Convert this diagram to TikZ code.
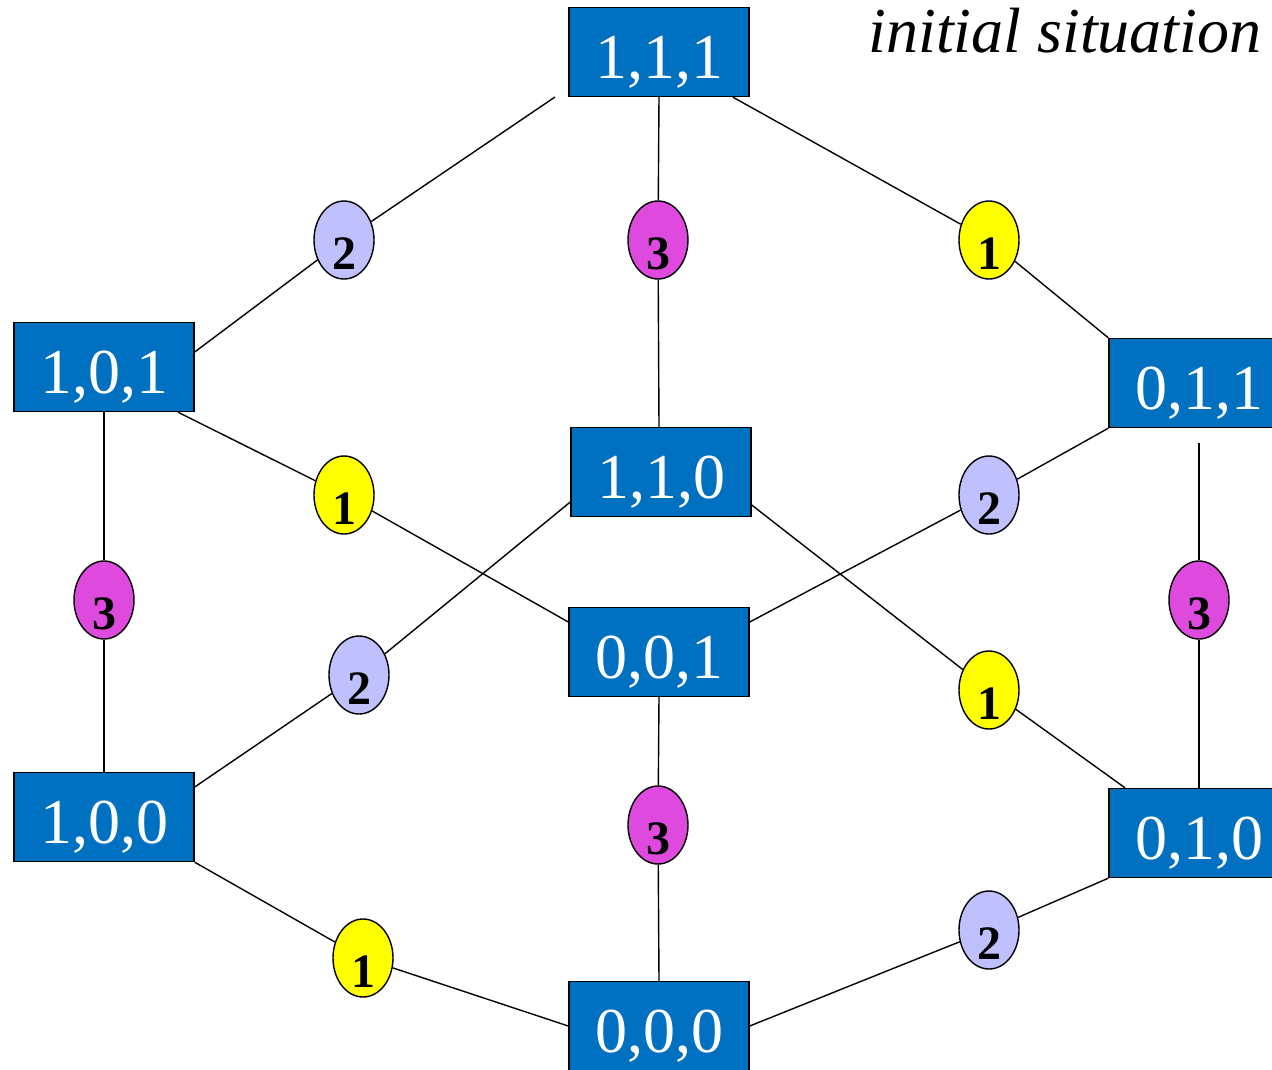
\documentclass[tikz,border=0pt]{standalone}
\usepackage{fontspec}
\setmainfont{Liberation Serif}[ItalicFont={Liberation Serif Italic},BoldFont={Liberation Serif Bold}]
\usetikzlibrary{shapes.geometric}
\definecolor{boxblue}{RGB}{0,112,192}
\definecolor{lav}{RGB}{192,192,255}
\definecolor{mag}{RGB}{221,74,221}
\definecolor{yel}{RGB}{255,255,0}
\newcommand{\lowtxt}[1]{\raisebox{-26pt}[0pt][0pt]{#1}}
\begin{document}
\begin{tikzpicture}[x=1pt,y=-1pt,
  statebox/.style={rectangle,draw=black,line width=1.4pt,fill=boxblue,text=white,
    minimum width=180pt,minimum height=89pt,inner sep=0pt,
    font=\fontsize{64}{64}\selectfont},
  ell/.style={ellipse,draw=black,line width=1.4pt,minimum width=60pt,minimum height=78pt,inner sep=0pt},
  num/.style={font=\fontsize{48}{48}\selectfont\bfseries,text=black,yshift=-14pt},
  conn/.style={line width=1.4pt,draw=black}]
\useasboundingbox (0,0) rectangle (1272,1069);
\clip (0,0) rectangle (1272,1069);
% state boxes
\node[statebox] (b111) at (659,52) {\lowtxt{1,1,1}};
\node[statebox] (b101) at (104,367) {\lowtxt{1,0,1}};
\node[statebox] (b011) at (1199,383) {\lowtxt{0,1,1}};
\node[statebox] (b110) at (661,472) {\lowtxt{1,1,0}};
\node[statebox] (b001) at (659,652) {\lowtxt{0,0,1}};
\node[statebox] (b100) at (104,817) {\lowtxt{1,0,0}};
\node[statebox] (b010) at (1199,833) {\lowtxt{0,1,0}};
\node[statebox] (b000) at (659,1026) {\lowtxt{0,0,0}};
% title
\node[anchor=base east,font=\fontsize{64}{64}\selectfont\itshape] (title) at (1265,52) {initial situation};
% ellipses
\node[ell,fill=lav,label={[num]center:2}] (e2a) at (344,240) {};
\node[ell,fill=mag,label={[num]center:3}] (e3a) at (658,240) {};
\node[ell,fill=yel,label={[num]center:1}] (e1a) at (989,240) {};
\node[ell,fill=yel,label={[num]center:1}] (e1b) at (344,495) {};
\node[ell,fill=lav,label={[num]center:2}] (e2c) at (989,495) {};
\node[ell,fill=mag,label={[num]center:3}] (e3b) at (104,600) {};
\node[ell,fill=mag,label={[num]center:3}] (e3c) at (1199,600) {};
\node[ell,fill=lav,label={[num]center:2}] (e2b) at (359,675) {};
\node[ell,fill=yel,label={[num]center:1}] (e1c) at (989,690) {};
\node[ell,fill=mag,label={[num]center:3}] (e3d) at (658,825) {};
\node[ell,fill=yel,label={[num]center:1}] (e1d) at (363,958) {};
\node[ell,fill=lav,label={[num]center:2}] (e2d) at (989,930) {};
% free ends
\coordinate (c1) at (555,97);
\coordinate (c2) at (1199,443);
% connectors
\draw[conn] (c1) -- (e2a) -- ([yshift=15pt]b101.east);
\draw[conn] (b111.south) -- (e3a) -- ([xshift=-2pt]b110.north);
\draw[conn] ([xshift=74pt]b111.south) -- (e1a) -- (b011.north west);
\draw[conn] ([xshift=74pt]b101.south) -- (e1b) -- ([yshift=30pt]b001.west);
\draw[conn] (b101.south) -- (e3b) -- (b100.north);
\draw[conn] ([yshift=-30pt]b110.west) -- (e2b) -- ([yshift=30pt]b100.east);
\draw[conn] ([yshift=-33pt]b110.east) -- (e1c) -- ([xshift=-74pt]b010.north);
\draw[conn] (b011.south west) -- (e2c) -- ([yshift=30pt]b001.east);
\draw[conn] (c2) -- (e3c) -- (b010.north);
\draw[conn] (b001.south) -- (e3d) -- (b000.north);
\draw[conn] (b100.south east) -- (e1d) -- (b000.west);
\draw[conn] (b010.south west) -- (e2d) -- (b000.east);
\end{tikzpicture}
\end{document}
